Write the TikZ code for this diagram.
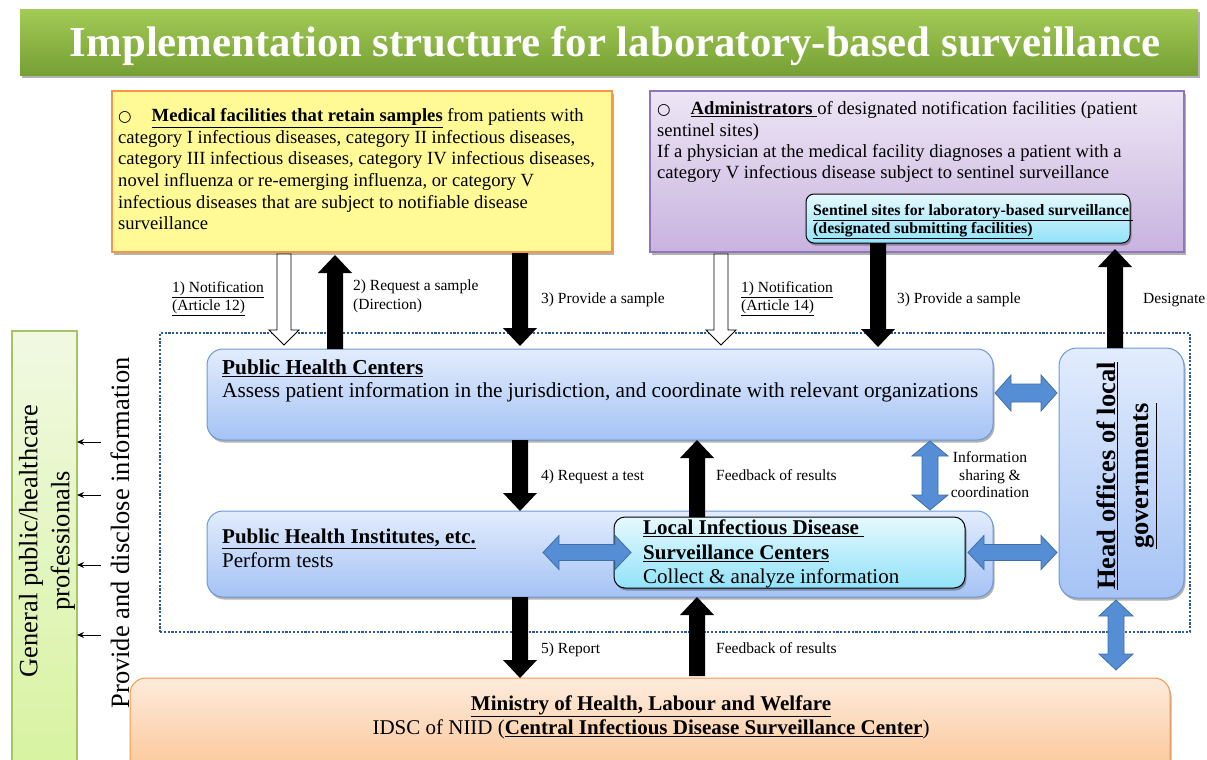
\documentclass[tikz,border=0pt]{standalone}
\usepackage{fontspec}
\setmainfont{Liberation Serif}
\newfontfamily\symfont{DejaVu Sans}
\usetikzlibrary{calc,shadows,arrows.meta}

\definecolor{titletop}{HTML}{A2CA55}
\definecolor{titlebot}{HTML}{76A035}
\definecolor{yellowfill}{HTML}{FFFA96}
\definecolor{orangeline}{HTML}{F79646}
\definecolor{purpletop}{HTML}{EDE6F5}
\definecolor{purplebot}{HTML}{C8B3DF}
\definecolor{purpleline}{HTML}{9075B8}
\definecolor{bluetop}{HTML}{E2ECFD}
\definecolor{bluebot}{HTML}{A5C3F5}
\definecolor{blueline}{HTML}{6C98D4}
\definecolor{cyantop}{HTML}{E6F9FE}
\definecolor{cyanbot}{HTML}{92E2F8}
\definecolor{orangetop}{HTML}{FDEBDC}
\definecolor{orangebot}{HTML}{FBBD85}
\definecolor{greentop}{HTML}{F1F9E2}
\definecolor{greenbot}{HTML}{D6F29D}
\definecolor{greenline}{HTML}{A3C564}
\definecolor{dotline}{HTML}{2E5A94}
\definecolor{arrowblue}{HTML}{558ED5}
\definecolor{arrowblueline}{HTML}{3F6FA8}

% block arrow: [style]{start}{end}{shaft half width}{head half width}{head length}
\newcommand\blockarrow[6][]{%
  \coordinate (ba-s) at #2;
  \coordinate (ba-e) at #3;
  \coordinate (ba-n) at ($(ba-e)!#6!(ba-s)$);
  \path[#1] ($(ba-s)!#4!90:(ba-e)$) -- ($(ba-n)!#4!90:(ba-e)$)
    -- ($(ba-n)!#5!90:(ba-e)$) -- (ba-e) -- ($(ba-n)!#5!-90:(ba-e)$)
    -- ($(ba-n)!#4!-90:(ba-e)$) -- ($(ba-s)!#4!-90:(ba-e)$) -- cycle;}

% double-headed block arrow, same arguments
\newcommand\dblarrow[6][]{%
  \coordinate (da-s) at #2;
  \coordinate (da-e) at #3;
  \coordinate (da-m) at ($(da-s)!#6!(da-e)$);
  \coordinate (da-n) at ($(da-e)!#6!(da-s)$);
  \path[#1] (da-s) -- ($(da-m)!#5!90:(da-e)$) -- ($(da-m)!#4!90:(da-e)$)
    -- ($(da-n)!#4!90:(da-e)$) -- ($(da-n)!#5!90:(da-e)$) -- (da-e)
    -- ($(da-n)!#5!-90:(da-e)$) -- ($(da-n)!#4!-90:(da-e)$)
    -- ($(da-m)!#4!-90:(da-e)$) -- ($(da-m)!#5!-90:(da-e)$) -- cycle;}

\tikzset{
  box/.style={draw, anchor=north west, inner sep=0pt, outer sep=0pt},
  shadowed/.style={drop shadow={shadow xshift=1.5pt, shadow yshift=-2.5pt, opacity=0.3, fill=black}},
  bluebox/.style={box, draw=blueline, line width=1pt, top color=bluetop, bottom color=bluebot, shadowed},
  cyanbox/.style={box, draw=black, line width=1pt, top color=cyantop, bottom color=cyanbot, shadowed},
  txt/.style={anchor=north west, align=left, inner sep=0pt},
  lbl/.style={inner sep=0pt, font=\fontsize{15.5}{17.5}\selectfont},
  blackarrow/.style={fill=black},
  hollowarrow/.style={fill=white, draw=black, line width=0.9pt},
  bluearrow/.style={fill=arrowblue, draw=arrowblueline, line width=0.8pt},
  infoarrow/.style={-{Stealth[length=7pt,width=6pt]}, line width=1pt},
}

\begin{document}
\begin{tikzpicture}[x=1pt,y=-1pt]
\useasboundingbox (0,0) rectangle (1207,760);
\clip (0,0) rectangle (1207,760);

% title banner
\node[box, draw=none, top color=titletop, bottom color=titlebot, shadowed,
      minimum width=1178pt, minimum height=65pt] (title) at (20,10) {};
\node[anchor=base, inner sep=0pt, text=white, font=\bfseries\fontsize{40}{48}\selectfont] (titletext) at (615,57)
  {\resizebox{1090pt}{!}{Implementation structure for laboratory-based surveillance}};

% dotted frame around the local organizations
\node[box, draw=dotline, line width=2.2pt, dash pattern=on 2.2pt off 1.6pt,
      minimum width=1030pt, minimum height=299pt] (region) at (160,333) {};

% medical facilities
\node[box, fill=yellowfill, draw=orangeline, line width=1.2pt, shadowed,
      minimum width=500pt, minimum height=161pt] (yellow) at (112,91) {};
\node[txt, font=\fontsize{18.6}{21.6}\selectfont] (yellowtext) at (118,108.5)
  {{\symfont\fontsize{15.5}{15}\selectfont ○}\hspace{20pt}\textbf{\underline{Medical facilities that retain samples}} from patients with\\
   category I infectious diseases, category II infectious diseases,\\
   category III infectious diseases, category IV infectious diseases,\\
   novel influenza or re-emerging influenza, or category V\\
   infectious diseases that are subject to notifiable disease\\
   surveillance};

% administrators of sentinel sites
\node[box, draw=purpleline, line width=1.2pt, top color=purpletop, bottom color=purplebot, shadowed,
      minimum width=534pt, minimum height=161pt] (purple) at (650,91) {};
\node[txt, font=\fontsize{18.6}{21.3}\selectfont] (purpletext) at (657,101.5)
  {{\symfont\fontsize{15.5}{15}\selectfont ○}\hspace{20pt}\textbf{\underline{Administrators }}of designated notification facilities (patient\\
   sentinel sites)\\
   If a physician at the medical facility diagnoses a patient with a\\
   category V infectious disease subject to sentinel surveillance};
\node[cyanbox, rounded corners=8pt, minimum width=324pt, minimum height=49pt] (sentinel) at (806,194) {};
\node[txt, font=\bfseries\fontsize{15.8}{18}\selectfont] (sentineltext) at (813,204)
  {\underline{Sentinel sites for laboratory-based surveillance }\\
   \underline{(designated submitting facilities)}};

% public health centers
\node[bluebox, rounded corners=16pt, minimum width=786pt, minimum height=91pt] (phc) at (207,349) {};
\node[txt, font=\fontsize{21.3}{23}\selectfont] (phctext) at (222,359.5)
  {\textbf{\underline{Public Health Centers}}\\
   Assess patient information in the jurisdiction, and coordinate with relevant organizations};

% public health institutes
\node[bluebox, rounded corners=16pt, minimum width=786pt, minimum height=86pt] (phi) at (207,511) {};
\node[txt, font=\fontsize{21}{24}\selectfont] (phitext) at (222,528.5)
  {\textbf{\underline{Public Health Institutes, etc.}}\\
   Perform tests};

% local surveillance centers
\node[cyanbox, rounded corners=11pt, minimum width=351pt, minimum height=71pt] (local) at (614,517) {};
\node[txt, font=\fontsize{21}{25}\selectfont] (localtext) at (643,519.5)
  {\textbf{\underline{Local Infectious Disease }}\\
   \textbf{\underline{Surveillance Centers}}\\[-1pt]
   Collect \& analyze information};

% head offices
\node[bluebox, rounded corners=18pt, minimum width=125pt, minimum height=250pt] (head) at (1059,348) {};
\node[rotate=90, align=center, inner sep=0pt, font=\bfseries\fontsize{26.5}{33}\selectfont] (headtext) at (1127,476)
  {\underline{Head offices of local}\\\underline{governments}};

% ministry
\node[box, rounded corners=16pt, draw=orangeline, line width=1pt, top color=orangetop, bottom color=orangebot, shadowed,
      minimum width=1040pt, minimum height=120pt] (ministry) at (130,678) {};
\node[anchor=north, align=center, inner sep=0pt, font=\fontsize{21}{24}\selectfont] (ministrytext) at (651,695.5)
  {\textbf{\underline{Ministry of Health, Labour and Welfare}}\\
   IDSC of NIID (\textbf{\underline{Central Infectious Disease Surveillance Center}})};

% general public
\node[box, draw=greenline, line width=1.2pt, top color=greentop, bottom color=greenbot,
      minimum width=65pt, minimum height=460pt] (green) at (12,331) {};
\node[rotate=90, align=center, inner sep=0pt, font=\fontsize{26.5}{32}\selectfont] (greentext) at (47,541)
  {General public/healthcare\\professionals};
\node[rotate=90, inner sep=0pt, font=\fontsize{26.5}{32}\selectfont] (provide) at (120,533)
  {Provide and disclose information};

% columns and rows of the block arrows
\coordinate (colA) at (284,0);
\coordinate (colB) at (335,0);
\coordinate (colC) at (520,0);
\coordinate (colD) at (721,0);
\coordinate (colE) at (878,0);
\coordinate (colF) at (1115,0);
\coordinate (colG) at (697,0);
\coordinate (colH) at (930,0);
\coordinate (colI) at (1116,0);
\coordinate (rowA) at (0,393);

% arrows from the facilities
\blockarrow[hollowarrow]{($(colA |- yellow.south)+(0,2)$)}{($(colA |- phc.north)+(0,-4)$)}{7pt}{15pt}{15pt}
\blockarrow[blackarrow]{(colB |- phc.north)}{($(colB |- yellow.south)+(0,3)$)}{8pt}{17pt}{18pt}
\blockarrow[blackarrow]{($(colC |- yellow.south)+(0,1)$)}{($(colC |- phc.north)+(0,-3)$)}{8pt}{17pt}{18pt}
\blockarrow[hollowarrow]{($(colD |- purple.south)+(0,2)$)}{($(colD |- phc.north)+(0,-4)$)}{7pt}{15pt}{15pt}
\blockarrow[blackarrow]{(colE |- sentinel.south)}{($(colE |- phc.north)+(0,-2)$)}{8pt}{17pt}{18pt}
\blockarrow[blackarrow]{(colF |- head.north)}{($(colF |- purple.south)+(0,-3)$)}{8pt}{17pt}{18pt}

\node[lbl, txt] (n12) at (172,281.5) {\underline{1) Notification}\\\underline{(Article 12)}};
\node[lbl, txt, font=\fontsize{15.5}{19}\selectfont] (req) at (353,279.5) {2) Request a sample\\(Direction)};
\node[lbl, anchor=base west] (prov1) at (541,303) {3) Provide a sample};
\node[lbl, txt] (n14) at (741,281.5) {\underline{1) Notification}\\\underline{(Article 14)}};
\node[lbl, anchor=base west] (prov2) at (897,303) {3) Provide a sample};
\node[lbl, anchor=base west] (desig) at (1143,303) {Designate};

% arrows between centers and institutes
\blockarrow[blackarrow]{(colC |- phc.south)}{(colC |- phi.north)}{8pt}{17pt}{18pt}
\blockarrow[blackarrow]{(colG |- local.north)}{(colG |- phc.south)}{8pt}{17pt}{18pt}
\dblarrow[bluearrow]{($(colH |- phc.south)+(0,1)$)}{($(colH |- phi.north)+(0,-1)$)}{8pt}{18pt}{15pt}
\node[lbl, anchor=base west] (reqtest) at (541,480) {4) Request a test};
\node[lbl, anchor=base west] (fb1) at (716,480) {Feedback of results};
\node[lbl, anchor=north, align=center] (share) at (990,451.5) {Information\\sharing \&\\coordination};

% exchanges with the head offices
\dblarrow[bluearrow]{($(phc.east |- rowA)+(2,0)$)}{($(head.west |- rowA)+(-2,0)$)}{9pt}{18pt}{16pt}
\dblarrow[bluearrow]{($(local.west)+(-71,0)$)}{($(local.west)+(17,0)$)}{8pt}{17pt}{16pt}
\dblarrow[bluearrow]{($(local.east)+(3,0)$)}{($(head.west |- local.east)+(-2,0)$)}{8pt}{17pt}{16pt}
\dblarrow[bluearrow]{($(colI |- head.south)+(0,2)$)}{($(colI |- ministry.north)+(0,-8)$)}{8pt}{17pt}{16pt}

% reporting to the ministry
\blockarrow[blackarrow]{(colC |- phi.south)}{(colC |- ministry.north)}{8pt}{17pt}{18pt}
\blockarrow[blackarrow]{($(colG |- ministry.north)+(0,-2)$)}{(colG |- phi.south)}{8pt}{17pt}{18pt}
\node[lbl, anchor=base west] (report) at (541,653) {5) Report};
\node[lbl, anchor=base west] (fb2) at (716,653) {Feedback of results};

% information to the public
\coordinate (p1) at (101,442);
\coordinate (p2) at (101,495);
\coordinate (p3) at (101,565);
\coordinate (p4) at (101,635);
\foreach \p in {p1,p2,p3,p4}
  \draw[infoarrow] (\p) -- (\p -| green.east);
\end{tikzpicture}
\end{document}
